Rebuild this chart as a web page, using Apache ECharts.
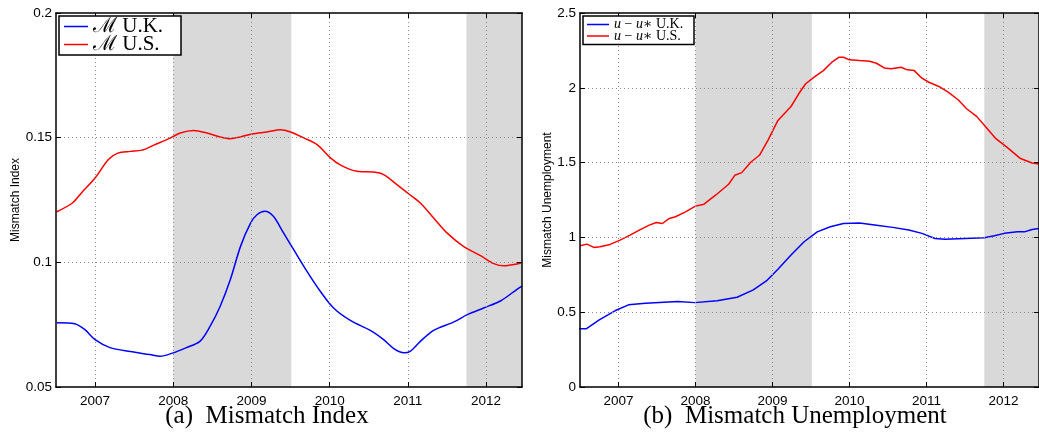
<!DOCTYPE html>
<html>
<head>
<meta charset="utf-8">
<script src="https://cdn.jsdelivr.net/npm/echarts@6/dist/echarts.min.js"></script>
<style>
  html, body { margin: 0; padding: 0; background: #fff; }
  #chart { width: 1039px; height: 435px; }
</style>
</head>
<body>
<div id="chart"></div>
<script>
// Year ticks and shaded recession spans (decimal years)
const yearTicks = [2007, 2008, 2009, 2010, 2011, 2012];
const xMin = 2006.5;
const xMax = 2012.46;
const recessionSpans = [[2008.0, 2009.51], [2011.75, 2012.46]];

// (a) Mismatch index, U.K.
const indexUkYears = [2006.51, 2006.74, 2006.87, 2007.0, 2007.19, 2007.45, 2007.7, 2007.83, 2008.0, 2008.16, 2008.34, 2008.47, 2008.6, 2008.73, 2008.86, 2008.99, 2009.07, 2009.17, 2009.28, 2009.41, 2009.54, 2009.71, 2009.88, 2010.05, 2010.27, 2010.52, 2010.69, 2010.82, 2010.95, 2011.03, 2011.16, 2011.33, 2011.59, 2011.76, 2011.97, 2012.19, 2012.4, 2012.46];
const indexUkValues = [0.0758, 0.0754, 0.0730, 0.0690, 0.0658, 0.0642, 0.0630, 0.0623, 0.0637, 0.0657, 0.0683, 0.0743, 0.0824, 0.0931, 0.1064, 0.1158, 0.1191, 0.1205, 0.1185, 0.1118, 0.1051, 0.0964, 0.0884, 0.0817, 0.0766, 0.0727, 0.0690, 0.0654, 0.0637, 0.0643, 0.0683, 0.0727, 0.0761, 0.0790, 0.0817, 0.0846, 0.0893, 0.0905];

// (a) Mismatch index, U.S.
const indexUsYears = [2006.51, 2006.71, 2006.83, 2007.0, 2007.17, 2007.29, 2007.45, 2007.6, 2007.75, 2007.96, 2008.09, 2008.26, 2008.43, 2008.6, 2008.73, 2008.86, 2009.01, 2009.2, 2009.37, 2009.5, 2009.67, 2009.84, 2010.01, 2010.14, 2010.35, 2010.56, 2010.69, 2010.86, 2011.01, 2011.16, 2011.33, 2011.5, 2011.72, 2011.93, 2012.1, 2012.23, 2012.42, 2012.46];
const indexUsValues = [0.1203, 0.1238, 0.1280, 0.1338, 0.1412, 0.1438, 0.1445, 0.1450, 0.1470, 0.1498, 0.1519, 0.1529, 0.1519, 0.1503, 0.1496, 0.1503, 0.1515, 0.1523, 0.1532, 0.1523, 0.1499, 0.1472, 0.1419, 0.1390, 0.1365, 0.1362, 0.1352, 0.1312, 0.1275, 0.1238, 0.1178, 0.1118, 0.1062, 0.1027, 0.0995, 0.0986, 0.0995, 0.1000];

// (b) Mismatch unemployment, U.K.
const unempUkYears = [2006.49, 2006.58, 2006.75, 2006.96, 2007.13, 2007.35, 2007.77, 2007.99, 2008.28, 2008.54, 2008.75, 2008.92, 2009.07, 2009.24, 2009.41, 2009.58, 2009.75, 2009.92, 2010.13, 2010.35, 2010.56, 2010.77, 2010.94, 2011.11, 2011.24, 2011.5, 2011.75, 2011.88, 2012.01, 2012.18, 2012.27, 2012.37, 2012.46];
const unempUkValues = [0.389, 0.389, 0.449, 0.511, 0.549, 0.560, 0.571, 0.564, 0.577, 0.600, 0.649, 0.709, 0.787, 0.882, 0.971, 1.037, 1.071, 1.093, 1.097, 1.082, 1.067, 1.049, 1.027, 0.993, 0.987, 0.993, 0.997, 1.011, 1.027, 1.037, 1.037, 1.053, 1.060];

// (b) Mismatch unemployment, U.S.
const unempUsYears = [2006.5, 2006.59, 2006.68, 2006.76, 2006.89, 2007.02, 2007.15, 2007.27, 2007.4, 2007.49, 2007.57, 2007.66, 2007.74, 2007.87, 2008.0, 2008.11, 2008.26, 2008.43, 2008.51, 2008.6, 2008.72, 2008.83, 2008.94, 2009.07, 2009.24, 2009.34, 2009.43, 2009.54, 2009.66, 2009.77, 2009.86, 2009.92, 2010.0, 2010.13, 2010.26, 2010.35, 2010.45, 2010.54, 2010.67, 2010.75, 2010.84, 2010.94, 2011.03, 2011.16, 2011.28, 2011.41, 2011.52, 2011.65, 2011.75, 2011.9, 2012.05, 2012.22, 2012.37, 2012.46];
const unempUsValues = [0.944, 0.955, 0.933, 0.938, 0.953, 0.982, 1.015, 1.049, 1.082, 1.100, 1.093, 1.127, 1.138, 1.171, 1.209, 1.222, 1.282, 1.355, 1.415, 1.433, 1.504, 1.549, 1.649, 1.782, 1.875, 1.960, 2.027, 2.071, 2.115, 2.171, 2.204, 2.204, 2.187, 2.182, 2.178, 2.164, 2.133, 2.127, 2.137, 2.120, 2.115, 2.064, 2.037, 2.009, 1.971, 1.920, 1.860, 1.809, 1.749, 1.660, 1.600, 1.527, 1.497, 1.490];

const zip = (xs, ys) => xs.map((x, i) => [x, ys[i]]);

const tickFont = '"Liberation Sans", Arial, Helvetica, sans-serif';
const serifFont = '"Liberation Serif", "DejaVu Serif", "Times New Roman", serif';
const BLUE = '#0000ff';
const RED = '#ff0000';

const grids = [
  { left: 56, top: 13, width: 466, height: 374 },
  { left: 580, top: 13, width: 466, height: 374 }
];

function xAxes(gridIndex) {
  const base = {
    gridIndex, type: 'value', min: xMin, max: xMax, z: 10,
    axisLine: { show: true, onZero: false, lineStyle: { color: '#000', width: 1.5 } },
    axisTick: { show: true, inside: true, length: 5, customValues: yearTicks, lineStyle: { color: '#000', width: 1 } },
    splitLine: { show: false }
  };
  return [
    Object.assign({}, base, {
      position: 'bottom',
      axisLabel: { show: true, customValues: yearTicks, color: '#000', fontSize: 13.5, fontFamily: tickFont, margin: 7, formatter: v => String(v) }
    }),
    Object.assign({}, base, { position: 'top', axisLabel: { show: false } })
  ];
}

function yAxes(gridIndex, min, max, interval, name, nameGap, fmt) {
  const base = {
    gridIndex, type: 'value', min, max, interval, z: 10,
    axisLine: { show: true, onZero: false, lineStyle: { color: '#000', width: 1.5 } },
    axisTick: { show: true, inside: true, length: 5, lineStyle: { color: '#000', width: 1 } },
    splitLine: { show: false }
  };
  return [
    Object.assign({}, base, {
      position: 'left',
      name, nameLocation: 'middle', nameGap,
      nameTextStyle: { color: '#000', fontSize: 12, fontFamily: tickFont },
      axisLabel: { show: true, color: '#000', fontSize: 13.5, fontFamily: tickFont, margin: 4, formatter: fmt }
    }),
    Object.assign({}, base, { position: 'right', axisLabel: { show: false } })
  ];
}

// Gray recession bands, then dotted grid lines above them
function bandSeries(xi, yi, yLow) {
  return {
    type: 'line', xAxisIndex: xi, yAxisIndex: yi, z: 1, silent: true,
    data: [[xMin, yLow]], symbol: 'none', lineStyle: { opacity: 0 },
    markArea: {
      silent: true,
      itemStyle: { color: '#d9d9d9' },
      data: recessionSpans.map(s => [{ xAxis: s[0] }, { xAxis: s[1] }])
    }
  };
}
function gridLineSeries(xi, yi, yLow, yLines) {
  return {
    type: 'line', xAxisIndex: xi, yAxisIndex: yi, z: 2, silent: true,
    data: [[xMin, yLow]], symbol: 'none', lineStyle: { opacity: 0 },
    markLine: {
      silent: true, symbol: ['none', 'none'], animation: false,
      label: { show: false },
      lineStyle: { color: '#8c8c8c', type: [1, 3], width: 1 },
      data: yearTicks.map(y => ({ xAxis: y })).concat(yLines.map(v => ({ yAxis: v })))
    }
  };
}
function dataSeries(name, xi, yi, data, color, smooth) {
  return {
    name, type: 'line', xAxisIndex: xi, yAxisIndex: yi, z: 3,
    data, symbol: 'none', showSymbol: false, smooth, clip: true,
    lineStyle: { color, width: 1.5 }, itemStyle: { color },
    animation: false
  };
}

const NAME_A_UK = 'ℳ U.K.';
const NAME_A_US = 'ℳ U.S.';
const NAME_B_UK = 'u − u∗ U.K.';
const NAME_B_US = 'u − u∗ U.S.';

const option = {
  animation: false,
  backgroundColor: '#fff',
  grid: grids,
  xAxis: xAxes(0).concat(xAxes(1)),
  yAxis: yAxes(0, 0.05, 0.2, 0.05, 'Mismatch Index', 34, v => String(+v.toFixed(2)))
    .concat(yAxes(1, 0, 2.5, 0.5, 'Mismatch Unemployment', 26, v => String(+v.toFixed(1)))),
  legend: [
    {
      data: [NAME_A_UK, NAME_A_US],
      orient: 'vertical', left: 59, top: 16, z: 20,
      icon: 'rect', itemWidth: 24, itemHeight: 1.5, itemGap: -3,
      backgroundColor: '#fff', borderColor: '#000', borderWidth: 1.5, borderRadius: 0,
      padding: [0, 5, 0, 5],
      selectedMode: false,
      textStyle: { color: '#000', fontFamily: serifFont, fontSize: 21, lineHeight: 17, width: 83 }
    },
    {
      data: [NAME_B_UK, NAME_B_US],
      orient: 'vertical', left: 583, top: 16, z: 20,
      icon: 'rect', itemWidth: 22, itemHeight: 1.5, itemGap: -2.5,
      backgroundColor: '#fff', borderColor: '#000', borderWidth: 1.5, borderRadius: 0,
      padding: [1.5, 4, 1.5, 4],
      selectedMode: false,
      formatter: n => n.replace(/u/g, '{i|u}'),
      textStyle: {
        color: '#000', fontFamily: serifFont, fontSize: 14, lineHeight: 11, width: 76,
        rich: { i: { fontStyle: 'italic', fontFamily: serifFont, fontSize: 14, lineHeight: 11, color: '#000' } }
      }
    }
  ],
  series: [
    bandSeries(0, 0, 0.05),
    gridLineSeries(0, 0, 0.05, [0.1, 0.15]),
    dataSeries(NAME_A_UK, 0, 0, zip(indexUkYears, indexUkValues), BLUE, 0.3),
    dataSeries(NAME_A_US, 0, 0, zip(indexUsYears, indexUsValues), RED, 0.3),
    bandSeries(2, 2, 0),
    gridLineSeries(2, 2, 0, [0.5, 1, 1.5, 2]),
    dataSeries(NAME_B_UK, 2, 2, zip(unempUkYears, unempUkValues), BLUE, false),
    dataSeries(NAME_B_US, 2, 2, zip(unempUsYears, unempUsValues), RED, false)
  ],
  graphic: [
    { type: 'text', x: 267, y: 416, silent: true,
      style: { text: '(a)  Mismatch Index', font: '25px ' + serifFont, fill: '#000', align: 'center', verticalAlign: 'middle' } },
    { type: 'text', x: 795, y: 416, silent: true,
      style: { text: '(b)  Mismatch Unemployment', font: '25px ' + serifFont, fill: '#000', align: 'center', verticalAlign: 'middle' } }
  ]
};

const chart = echarts.init(document.getElementById('chart'), null, { renderer: 'canvas' });
chart.setOption(option);
</script>
</body>
</html>
